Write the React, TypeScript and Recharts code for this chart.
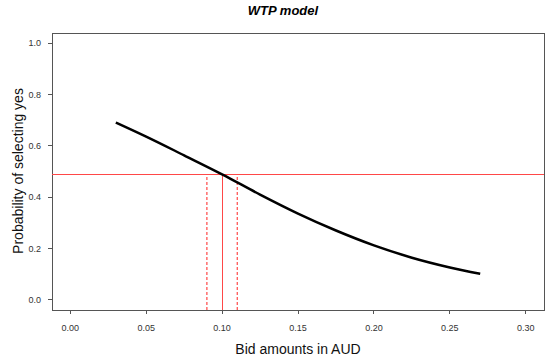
import React from 'react';
import { LineChart, Line, XAxis, YAxis, ReferenceLine, ReferenceArea, Customized } from 'recharts';

const bids = [0.03, 0.05, 0.075, 0.1, 0.125, 0.15, 0.175, 0.2, 0.225, 0.25, 0.27];
const probs = [0.691, 0.636, 0.563, 0.489, 0.41, 0.336, 0.27, 0.212, 0.164, 0.126, 0.101];
const xTicks = [0, 0.05, 0.1, 0.15, 0.2, 0.25, 0.3];
const yTicks = [0, 0.2, 0.4, 0.6, 0.8, 1.0];
const cutProb = 0.49;
const bidPoint = 0.1;
const ciLow = 0.09;
const ciHigh = 0.11;

const title = 'WTP model';
const xLabel = 'Bid amounts in AUD';
const yLabel = 'Probability of selecting yes';

const data = bids.map((b, i) => ({ bid: b, p: probs[i] }));

const FONT = '"Liberation Sans", Arial, Helvetica, sans-serif';
const RED = '#ff4848';
const X_DOM: [number, number] = [-0.012, 0.312];
const Y_DOM: [number, number] = [-0.04, 1.04];

const Texts = () => (
  <g>
    <text x={283} y={15} textAnchor="middle" fontFamily={FONT} fontSize={13} fontWeight="bold" fontStyle="italic" fill="#000">
      {title}
    </text>
    <text x={298} y={354} textAnchor="middle" fontFamily={FONT} fontSize={14} fill="#111">
      {xLabel}
    </text>
    <text x={22.5} y={171} textAnchor="middle" fontFamily={FONT} fontSize={14} fill="#111" transform="rotate(-90, 22.5, 171)">
      {yLabel}
    </text>
  </g>
);

export default function App() {
  return (
    <div style={{ position: 'absolute', left: 0, top: 0, width: 550, height: 359, background: '#fff' }}>
      <LineChart width={550} height={359} data={data} margin={{ top: 33, right: 6, bottom: 0, left: 0 }}>
        <XAxis
          dataKey="bid"
          type="number"
          domain={X_DOM}
          ticks={xTicks}
          tickFormatter={(v: number) => v.toFixed(2)}
          height={49}
          axisLine={false}
          tickSize={4}
          tickMargin={11}
          tick={{ fontSize: 9, fill: '#333', fontFamily: FONT }}
          tickLine={{ stroke: '#555', shapeRendering: 'crispEdges' }}
          allowDataOverflow
          interval={0}
        />
        <YAxis
          type="number"
          domain={Y_DOM}
          ticks={yTicks}
          tickFormatter={(v: number) => v.toFixed(1)}
          width={52}
          axisLine={false}
          tickSize={4}
          tickMargin={7}
          tick={{ fontSize: 9, fill: '#333', fontFamily: FONT }}
          tickLine={{ stroke: '#555', shapeRendering: 'crispEdges' }}
          allowDataOverflow
          interval={0}
        />
        <ReferenceArea x1={X_DOM[0]} x2={X_DOM[1]} y1={Y_DOM[0]} y2={Y_DOM[1]} fill="none" fillOpacity={0} stroke="#555" strokeWidth={1} ifOverflow="visible" shapeRendering="crispEdges" />
        <ReferenceLine y={cutProb} stroke={RED} strokeWidth={1} shapeRendering="crispEdges" />
        <ReferenceLine segment={[{ x: bidPoint, y: Y_DOM[0] }, { x: bidPoint, y: cutProb }]} stroke={RED} strokeWidth={1} shapeRendering="crispEdges" />
        <ReferenceLine segment={[{ x: ciLow, y: Y_DOM[0] }, { x: ciLow, y: cutProb }]} stroke={RED} strokeWidth={1.2} strokeDasharray="3 2" />
        <ReferenceLine segment={[{ x: ciHigh, y: Y_DOM[0] }, { x: ciHigh, y: cutProb }]} stroke={RED} strokeWidth={1.2} strokeDasharray="3 2" />
        <Line type="monotone" dataKey="p" stroke="#000" strokeWidth={2.5} dot={false} isAnimationActive={false} />
        <Customized component={Texts} />
      </LineChart>
    </div>
  );
}
